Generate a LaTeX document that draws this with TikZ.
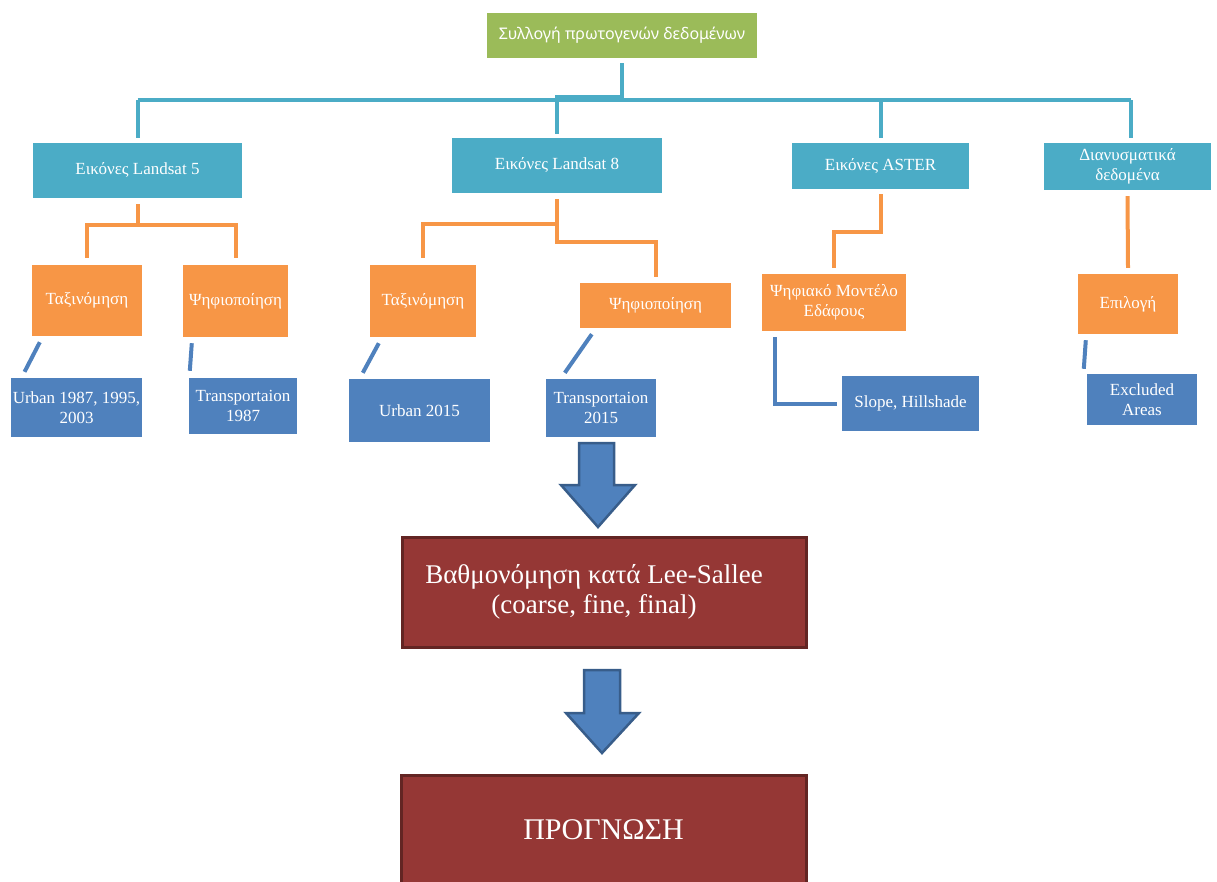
\documentclass[tikz,border=0pt]{standalone}
\usepackage{fontspec}
\setmainfont{Liberation Serif}
\newfontfamily\srcfont{Noto Sans}

\definecolor{grn}{HTML}{9BBB59}
\definecolor{cyn}{HTML}{4BACC6}
\definecolor{org}{HTML}{F79646}
\definecolor{blu}{HTML}{4F81BD}
\definecolor{bld}{HTML}{385D8A}
\definecolor{rd}{HTML}{953735}
\definecolor{rdd}{HTML}{632523}

\tikzset{
 box/.style={text=white, inner sep=2pt, align=center, font=\fontsize{17}{20}\selectfont},
 greenbox/.style={box, fill=grn, font=\srcfont\fontsize{16}{18}\selectfont},
 cyanbox/.style={box, fill=cyn},
 orangebox/.style={box, fill=org},
 bluebox/.style={box, fill=blu},
 redbox/.style={box, fill=rd, draw=rdd, line width=3},
 cyanline/.style={draw=cyn, line width=4},
 orangeline/.style={draw=org, line width=4},
 blueline/.style={draw=blu, line width=4},
 bigarrow/.style={fill=blu, draw=bld, line width=2.5, line join=miter},
}

\begin{document}
\begin{tikzpicture}[x=1pt,y=-1pt]
 \useasboundingbox (0,0) rectangle (1217,881);
 \coordinate (bus) at (0,100); %main bar

 % boxes
 \node[greenbox, minimum width=270, minimum height=45] (src) at (622,35.5) {Συλλογή πρωτογενών δεδομένων};
 \node[cyanbox, minimum width=209, minimum height=55] (ls5) at (137.5,170.5) {Εικόνες Landsat 5};
 \node[cyanbox, minimum width=210, minimum height=55] (ls8) at (557,165.5) {Εικόνες Landsat 8};
 \node[cyanbox, minimum width=177, minimum height=46] (aster) at (880.5,166) {Εικόνες ASTER};
 \node[cyanbox, minimum width=167, minimum height=47] (vec) at (1127.5,166.5) {Διανυσματικά\\δεδομένα};

 \node[orangebox, minimum width=110, minimum height=71] (tax5) at (87,300.5) {Ταξινόμηση};
 \node[orangebox, minimum width=105, minimum height=72] (dig5) at (235.5,301) {Ψηφιοποίηση};
 \node[orangebox, minimum width=106, minimum height=72] (tax8) at (423,301) {Ταξινόμηση};
 \node[orangebox, minimum width=151, minimum height=45] (dig8) at (655.5,305.5) {Ψηφιοποίηση};
 \node[orangebox, minimum width=144, minimum height=57] (dem) at (834,302.5) {Ψηφιακό Μοντέλο\\Εδάφους};
 \node[orangebox, minimum width=100, minimum height=60] (sel) at (1128,304) {Επιλογή};

 \node[bluebox, minimum width=131, minimum height=59] (urb5) at (76.5,407.5) {Urban 1987, 1995,\\2003};
 \node[bluebox, minimum width=108, minimum height=56] (tr5) at (243,406) {Transportaion\\1987};
 \node[bluebox, minimum width=141, minimum height=63] (urb8) at (419.5,410.5) {Urban 2015};
 \node[bluebox, minimum width=110, minimum height=58] (tr8) at (601,408) {Transportaion\\2015};
 \node[bluebox, minimum width=137, minimum height=55] (slope) at (910.5,403.5) {Slope, Hillshade};
 \node[bluebox, minimum width=110, minimum height=51] (excl) at (1142,399.5) {Excluded\\Areas};

 \node[redbox, minimum width=404, minimum height=110, font=\fontsize{27}{30}\selectfont] (cal) at (604,592) {Βαθμονόμηση κατά Lee-Sallee\hspace*{20pt}\\(coarse, fine, final)\hspace*{20pt}};
 \node[redbox, minimum width=405, minimum height=110, font=\fontsize{30}{32}\selectfont] (prog) at (603.5,830) {ΠΡΟΓΝΩΣΗ};

 % cyan lines
 \draw[cyanline] ([yshift=-5pt]src.south) -- ++(0,34) -| ([yshift=4pt]ls8.north);
 \draw[cyanline] (ls5.north |- bus) -- ([xshift=3.5pt]vec.north |- bus);
 \foreach \n in {ls5,aster}
  \draw[cyanline] (\n.north |- bus) -- ([yshift=5pt]\n.north);
 \draw[cyanline] ([xshift=3.5pt]vec.north |- bus) -- ([xshift=3.5pt,yshift=5pt]vec.north);

 % orange lines
 \draw[orangeline] ([yshift=-6pt]ls5.south) -- ++(0,21) coordinate (f5);
 \draw[orangeline] ([yshift=7pt]tax5.north) |- (f5) -| ([yshift=7pt]dig5.north);
 \draw[orangeline] ([yshift=-6pt]ls8.south) -- ++(0,43) -| ([yshift=6pt]dig8.north);
 \draw[orangeline] ([yshift=7pt]tax8.north) |- ([yshift=-31pt]ls8.south);
 \draw[orangeline] ([yshift=-5pt]aster.south) -- ++(0,38) -| ([yshift=6pt]dem.north);
 \draw[orangeline] ([yshift=-6pt]vec.south) -- ([yshift=6pt]sel.north);

 % blue lines
 \draw[blueline] ([shift={(8pt,-6pt)}]tax5.south west) -- ([shift={(14pt,6pt)}]urb5.north west);
 \draw[blueline] ([shift={(9pt,-6pt)}]dig5.south west) -- ([shift={(1pt,7pt)}]tr5.north west);
 \draw[blueline] ([shift={(9pt,-6pt)}]tax8.south west) -- ([shift={(14pt,6pt)}]urb8.north west);
 \draw[blueline] ([shift={(12pt,-6pt)}]dig8.south west) -- ([shift={(19pt,6pt)}]tr8.north west);
 \draw[blueline] ([shift={(13pt,-6pt)}]dem.south west) |- ([xshift=-5pt]slope.west);
 \draw[blueline] ([shift={(8pt,-6pt)}]sel.south west) -- ([shift={(-3pt,5pt)}]excl.north west);

 % block arrows
 \draw[bigarrow] (579,443) -- (614,443) -- (614,485) -- (635,485) -- (598,527) -- (561,485) -- (579,485) -- cycle;
 \draw[bigarrow] (584,670) -- (620,670) -- (620,713) -- (639,713) -- (602,753) -- (566,713) -- (584,713) -- cycle;
\end{tikzpicture}
\end{document}
